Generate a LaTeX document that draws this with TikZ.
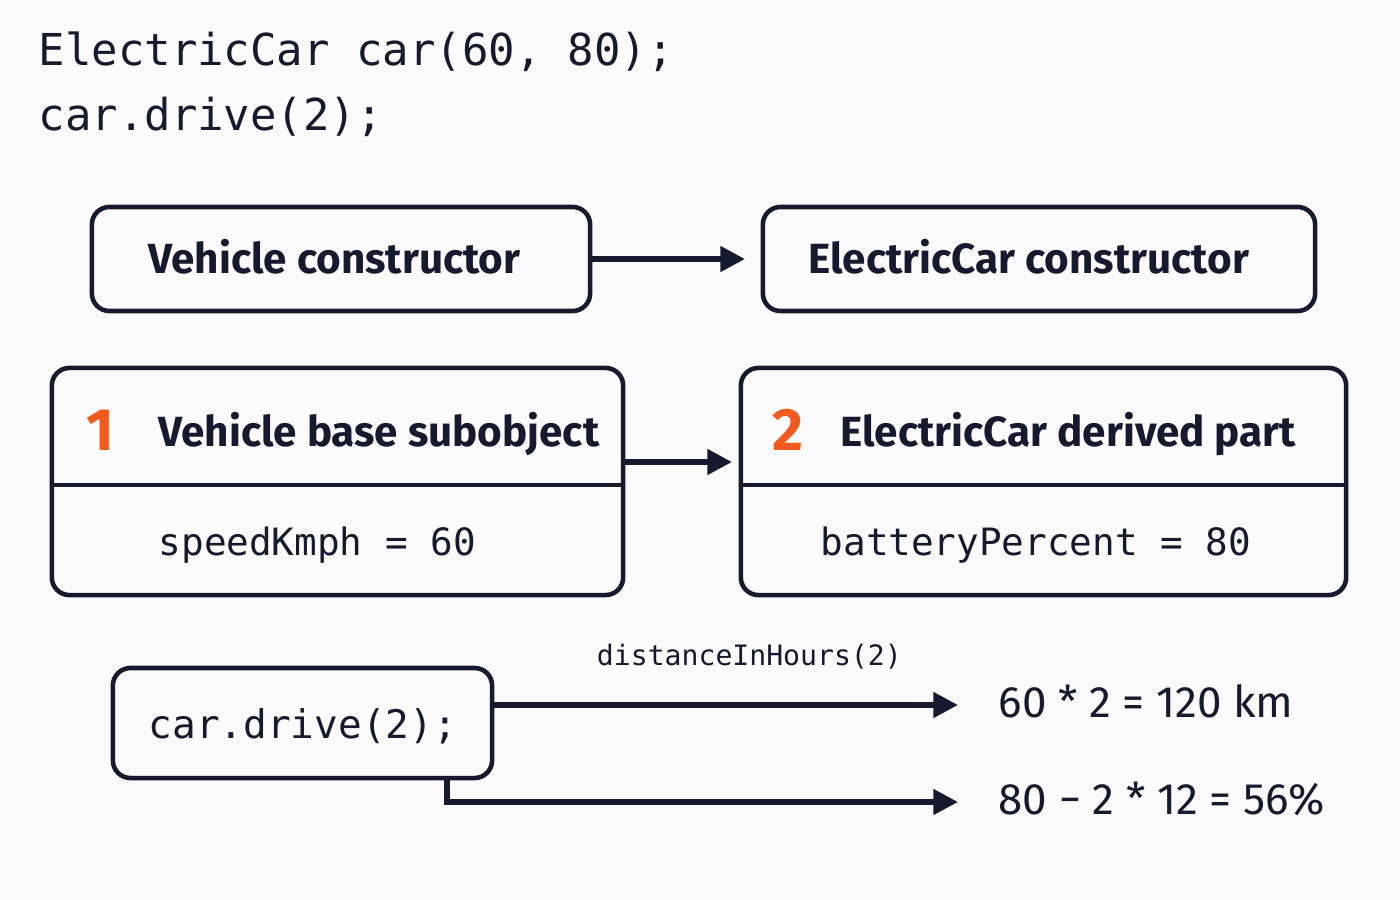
\documentclass[tikz,border=0pt]{standalone}
\usepackage{fontspec}
\setmainfont{Fira Sans}
\setmonofont{DejaVu Sans Mono}
\usetikzlibrary{arrows.meta,positioning}
\definecolor{ink}{HTML}{151A2E}
\definecolor{accent}{HTML}{F05A1E}
\definecolor{paper}{HTML}{FAFAFA}

\tikzset{
    box/.style={draw=ink, line width=1.3pt, rounded corners=5pt, inner sep=0pt},
    title/.style={font=\fontsize{12}{14}\selectfont\bfseries, text=ink, anchor=base west, inner sep=0pt},
    code/.style={font=\ttfamily\fontsize{10.7}{13}\selectfont, text=ink, anchor=base west, inner sep=0pt},
    flow/.style={draw=ink, line width=1.6pt, -{Triangle[length=7pt,width=7pt]}},
}

\begin{document}
\begin{tikzpicture}[x=0.01cm, y=-0.01cm]
    \fill[paper] (0,0) rectangle (1400,900);
    \useasboundingbox (0,0) rectangle (1400,900);

    % source lines
    \node[code, font=\ttfamily\fontsize{12.5}{15}\selectfont] (line1) at (38,65) {ElectricCar car(60, 80);};
    \node[code, font=\ttfamily\fontsize{12.5}{15}\selectfont] (line2) at (38,130) {car.drive(2);};

    % constructor calls
    \node[box, minimum width=4.98cm, minimum height=1.04cm] (vctor) at (341,259) {};
    \node[box, minimum width=5.52cm, minimum height=1.04cm] (ector) at (1039,259) {};
    \node[title] at (148,273) {Vehicle constructor};
    \node[title] at (808,273) {ElectricCar constructor};
    \draw[flow] (vctor.east) -- (ector.west -| 745,0);

    % object layout
    \node[box, minimum width=5.71cm, minimum height=2.27cm] (base) at (337.5,481.5) {};
    \node[box, minimum width=6.05cm, minimum height=2.27cm] (derived) at (1043.5,481.5) {};
    \draw[ink, line width=1.3pt] (base.west |- 0,485) -- (base.east |- 0,485);
    \draw[ink, line width=1.3pt] (derived.west |- 0,485) -- (derived.east |- 0,485);
    \node[title, text=accent, font=\fontsize{17}{20}\selectfont\bfseries] (one) at (86,450) {1};
    \node[title] at (158,446) {Vehicle base subobject};
    \node[title, text=accent, font=\fontsize{17}{20}\selectfont\bfseries] (two) at (772,450) {2};
    \node[title] at (840,446) {ElectricCar derived part};
    \node[code] at (158,555) {speedKmph = 60};
    \node[code] at (820,555) {batteryPercent = 80};
    \draw[flow] (base.east |- 0,462) -- (732,462);

    % drive call
    \node[box, minimum width=3.79cm, minimum height=1.1cm] (drive) at (302.5,723) {};
    \node[code, font=\ttfamily\fontsize{11.2}{13}\selectfont] at (148,738) {car.drive(2);};
    \coordinate (distEnd) at (958,705);
    \coordinate (battEnd) at (958,802);
    \draw[flow] (drive.east |- distEnd) -- (distEnd)
        node[pos=0.55, above=6pt, font=\ttfamily\fontsize{8}{10}\selectfont, text=ink] {distanceInHours(2)};
    \draw[flow] (447,778) -- (447,802) -- (battEnd);
    \node[title, font=\fontsize{12.5}{15}\selectfont] (dist) at (998,717) {60 * 2 = 120 km};
    \node[title, font=\fontsize{12.5}{15}\selectfont] (batt) at (998,814) {80 − 2 * 12 = 56\%};
\end{tikzpicture}
\end{document}
